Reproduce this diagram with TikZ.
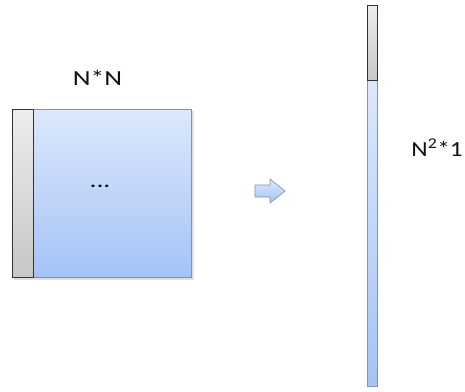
\documentclass[tikz,border=0pt]{standalone}
\usepackage{fontspec}
\setmainfont{Carlito}
\definecolor{btop}{HTML}{DCE8FC}
\definecolor{bbot}{HTML}{A5C3F6}
\definecolor{bline}{HTML}{7F93B5}
\definecolor{txt}{HTML}{111111}
\newcommand{\lblfont}{\fontsize{21.5}{25}\selectfont}
\begin{document}
\begin{tikzpicture}[x=1pt,y=-1pt,
  bluebox/.style={draw=bline, line width=0.8pt, top color=btop, bottom color=bbot},
  graybox/.style={draw=black!80, line width=1pt, top color=black!7, bottom color=black!22},
  lbl/.style={text=txt, inner sep=0pt, xscale=1.28, font=\lblfont}]
\useasboundingbox (0,0) rectangle (465,391);
% matrix
\fill[black!12] (14,111) rectangle (194,280);
\draw[bluebox] (12,109) rectangle (191,277);
\draw[graybox] (12,109) rectangle (33,277);
\node[lbl, anchor=base] (nn) at (97.5,85.5) {N*N};
\node[lbl, anchor=base] (dots) at (100,187.5) {...};
% arrow
\draw[draw=bline, line width=0.7pt, top color=btop, bottom color=bbot]
  (255,185) -- (270,185) -- (270,179) -- (285,191) -- (270,203) -- (270,197) -- (255,197) -- cycle;
% vector
\draw[bluebox] (367,80) rectangle (377,386);
\draw[graybox] (367,5) rectangle (377,80);
\node[lbl, xscale=0.92, anchor=base east] (n2) at (463,156.5) {N\textsuperscript{2}*1};
\end{tikzpicture}
\end{document}
